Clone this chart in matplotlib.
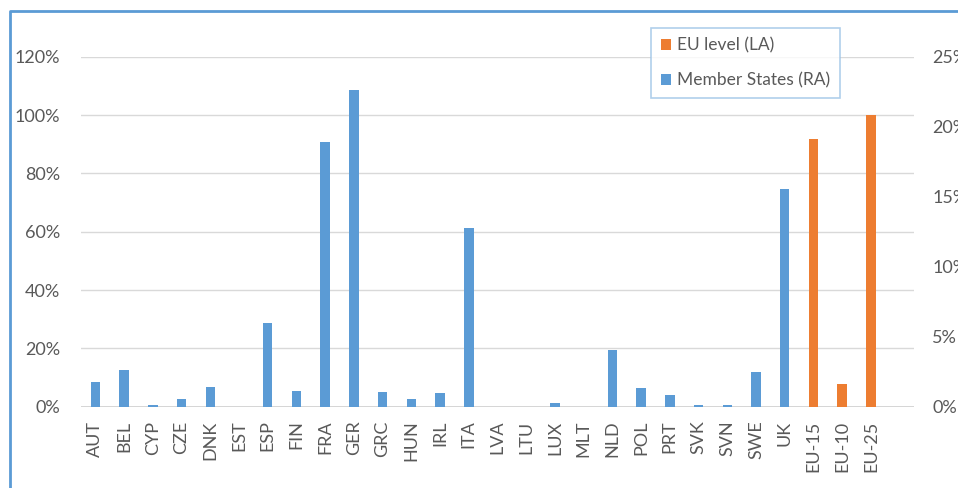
import matplotlib.pyplot as plt
from matplotlib.lines import Line2D
from matplotlib.patches import Patch
import numpy as np

plt.rcParams['font.family'] = ['Lato', 'DejaVu Sans']

# categories (last slot left empty, as in the original)
categories = ['AUT', 'BEL', 'CYP', 'CZE', 'DNK', 'EST', 'ESP', 'FIN', 'FRA', 'GER',
              'GRC', 'HUN', 'IRL', 'ITA', 'LVA', 'LTU', 'LUX', 'MLT', 'NLD', 'POL',
              'PRT', 'SVK', 'SVN', 'SWE', 'UK', 'EU-15', 'EU-10', 'EU-25']

# Member States, right axis (%)
member_states = [1.8, 2.65, 0.12, 0.55, 1.43, 0.0, 5.95, 1.14, 18.9, 22.6,
                 1.05, 0.55, 0.98, 12.75, 0.0, 0.0, 0.24, 0.0, 4.05, 1.33,
                 0.82, 0.15, 0.15, 2.45, 15.55, 0.0, 0.0, 0.0]

# EU level, left axis (%)
eu_level = [0] * 25 + [91.7, 7.8, 100.0]

blue = '#5B9BD5'
orange = '#ED7D31'
grey_txt = '#595959'

fig = plt.figure(figsize=(9.58, 4.88), dpi=100)
ax = fig.add_axes([81 / 958, 1 - 406.7 / 488, 833 / 958, 350 / 488])
ax2 = ax.twinx()

x = np.arange(len(categories))
w = 0.33
ax.bar(x, eu_level, width=w, color=orange, zorder=3)
ax2.bar(x, member_states, width=w, color=blue, zorder=3)

ax.set_xlim(-0.5, 28.5)
ax.set_ylim(0, 120)
ax2.set_ylim(0, 25)
ax.set_yticks(range(0, 121, 20))
ax.set_yticklabels([f'{v}%' for v in range(0, 121, 20)])
ax2.set_yticks(range(0, 26, 5))
ax2.set_yticklabels([f'{v}%' for v in range(0, 26, 5)])

ax.set_xticks(x)
ax.set_xticklabels(categories, rotation=90)

ax.grid(axis='y', color='#D9D9D9', linewidth=1, zorder=0)
ax.set_axisbelow(True)
for a in (ax, ax2):
    for s in a.spines.values():
        s.set_visible(False)
    a.tick_params(length=0, labelsize=13, labelcolor=grey_txt)
ax.tick_params(axis='y', pad=15)
ax.tick_params(axis='x', pad=10)
ax2.tick_params(axis='y', pad=13)
ax.axhline(0, color='#D0D0D0', linewidth=1.2, zorder=2)

handles = [Patch(facecolor=orange, label='EU level (LA)'),
           Patch(facecolor=blue, label='Member States (RA)')]
leg = fig.legend(handles=handles, loc='upper left',
                 bbox_to_anchor=(651 / 958, 1 - 28 / 488),
                 fontsize=12.5, frameon=True, fancybox=False,
                 edgecolor='#9DC3E6', labelspacing=1.1,
                 handlelength=0.6, handleheight=0.6, handletextpad=0.35,
                 borderpad=0.55, borderaxespad=0)
leg.get_frame().set_linewidth(1.2)
for t in leg.get_texts():
    t.set_color(grey_txt)

# outer chart border (only left and top edges visible)
fig.add_artist(Line2D([10 / 958, 10 / 958, 1.0], [0.0, 1 - 11 / 488, 1 - 11 / 488],
                      transform=fig.transFigure, color=blue, linewidth=2))

fig.savefig('out.png', dpi=100)
